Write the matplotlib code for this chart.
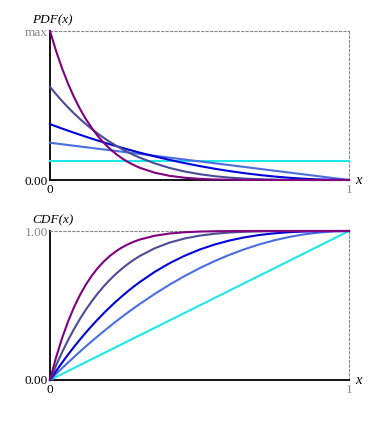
import matplotlib
matplotlib.use('Agg')
import matplotlib.pyplot as plt

plt.rcParams['font.family'] = ['Liberation Serif', 'DejaVu Serif']

x = [0, 0.02, 0.04, 0.06, 0.08, 0.10, 0.12, 0.14, 0.16, 0.18, 0.20, 0.22, 0.24, 0.26, 0.28, 0.30,
     0.35, 0.40, 0.45, 0.50, 0.55, 0.60, 0.65, 0.70, 0.75, 0.80, 0.85, 0.90, 0.95, 1.0]

# PDF values, relative to max
pdf_cyan = [0.125] * 30
pdf_lightblue = [0.25, 0.245, 0.24, 0.235, 0.23, 0.225, 0.22, 0.215, 0.21, 0.205, 0.2, 0.195, 0.19, 0.185, 0.18, 0.175,
                 0.1625, 0.15, 0.1375, 0.125, 0.1125, 0.1, 0.0875, 0.075, 0.0625, 0.05, 0.0375, 0.025, 0.0125, 0]
pdf_blue = [0.375, 0.3602, 0.3456, 0.3314, 0.3174, 0.3038, 0.2904, 0.2774, 0.2646, 0.2522, 0.24, 0.2282, 0.2166, 0.2054, 0.1944, 0.1838,
            0.1584, 0.135, 0.1134, 0.0938, 0.0759, 0.06, 0.0459, 0.0338, 0.0234, 0.015, 0.0084, 0.0038, 0.0009, 0]
pdf_slate = [0.625, 0.5765, 0.5308, 0.4879, 0.4478, 0.4101, 0.3748, 0.3419, 0.3112, 0.2826, 0.256, 0.2314, 0.2085, 0.1874, 0.1679, 0.1501,
             0.1116, 0.081, 0.0572, 0.0391, 0.0256, 0.016, 0.0094, 0.0051, 0.0024, 0.001, 0.0003, 0.0001, 0, 0]
pdf_purple = [1.0, 0.8681, 0.7514, 0.6485, 0.5578, 0.4783, 0.4087, 0.3479, 0.2951, 0.2493, 0.2097, 0.1757, 0.1465, 0.1215, 0.1003, 0.0824,
              0.049, 0.028, 0.0152, 0.0078, 0.0037, 0.0016, 0.0006, 0.0002, 0.0001, 0, 0, 0, 0, 0]

# CDF values
cdf_cyan = [0, 0.02, 0.04, 0.06, 0.08, 0.10, 0.12, 0.14, 0.16, 0.18, 0.20, 0.22, 0.24, 0.26, 0.28, 0.30,
            0.35, 0.40, 0.45, 0.50, 0.55, 0.60, 0.65, 0.70, 0.75, 0.80, 0.85, 0.90, 0.95, 1.0]
cdf_lightblue = [0, 0.0396, 0.0784, 0.1164, 0.1536, 0.19, 0.2256, 0.2604, 0.2944, 0.3276, 0.36, 0.3916, 0.4224, 0.4524, 0.4816, 0.51,
                 0.5775, 0.64, 0.6975, 0.75, 0.7975, 0.84, 0.8775, 0.91, 0.9375, 0.96, 0.9775, 0.99, 0.9975, 1]
cdf_blue = [0, 0.0588, 0.1153, 0.1694, 0.2213, 0.271, 0.3185, 0.3639, 0.4073, 0.4486, 0.488, 0.5254, 0.561, 0.5948, 0.6268, 0.657,
            0.7254, 0.784, 0.8336, 0.875, 0.9089, 0.936, 0.9571, 0.973, 0.9844, 0.992, 0.9966, 0.999, 0.9999, 1]
cdf_slate = [0, 0.0961, 0.1846, 0.2661, 0.3409, 0.4095, 0.4723, 0.5296, 0.5818, 0.6293, 0.6723, 0.7113, 0.7464, 0.7781, 0.8065, 0.8319,
             0.884, 0.9222, 0.9497, 0.9687, 0.9815, 0.9898, 0.9947, 0.9976, 0.999, 0.9997, 0.9999, 1, 1, 1]
cdf_purple = [0, 0.1492, 0.2786, 0.3904, 0.4868, 0.5695, 0.6404, 0.7008, 0.7521, 0.7956, 0.8322, 0.863, 0.8887, 0.9101, 0.9278, 0.9424,
              0.9681, 0.9832, 0.9916, 0.9961, 0.9983, 0.9993, 0.9998, 0.9999, 1, 1, 1, 1, 1, 1]

colors = ['#1ee8e8', '#4a6ee0', '#0000dd', '#4c4c94', '#800080']

fig = plt.figure(figsize=(3.8, 4.3), dpi=100)
ax1 = fig.add_axes([50 / 380, 1 - 180 / 430, 299 / 380, 149 / 430])
ax2 = fig.add_axes([50 / 380, 1 - 380 / 430, 299 / 380, 149 / 430])

panels = [
    (ax1, [pdf_cyan, pdf_lightblue, pdf_blue, pdf_slate, pdf_purple], 'PDF(x)', ['0.00', 'max']),
    (ax2, [cdf_cyan, cdf_lightblue, cdf_blue, cdf_slate, cdf_purple], 'CDF(x)', ['0.00', '1.00']),
]

for ax, series, title, ylabels in panels:
    for ys, c in zip(series, colors):
        ax.plot(x, ys, color=c, lw=1.5, clip_on=False, zorder=3)
    ax.set_xlim(0, 1)
    ax.set_ylim(0, 1)
    for s in ['left', 'bottom']:
        ax.spines[s].set_color('black')
        ax.spines[s].set_linewidth(1.3)
    for s in ['top', 'right']:
        ax.spines[s].set_color('#888888')
        ax.spines[s].set_linestyle((0, (2, 2)))
        ax.spines[s].set_linewidth(0.8)
    ax.set_xticks([0, 1])
    ax.set_xticklabels(['0', '1'], fontsize=9.5)
    ax.set_yticks([0, 1])
    ax.set_yticklabels(ylabels, fontsize=9.5)
    ax.tick_params(axis='x', length=0, pad=3)
    ax.tick_params(axis='y', length=0, pad=1.5)
    ax.get_xticklabels()[1].set_color('#888888')
    ax.get_yticklabels()[1].set_color('#888888')
    ax.text(-0.06, 1.03, title, transform=ax.transAxes, fontsize=9.5,
            style='italic', ha='left', va='bottom')
    ax.text(1.02, 0.0, 'x', transform=ax.transAxes, fontsize=10.5,
            style='italic', ha='left', va='center')

fig.savefig('out.png', dpi=100)
plt.close()
